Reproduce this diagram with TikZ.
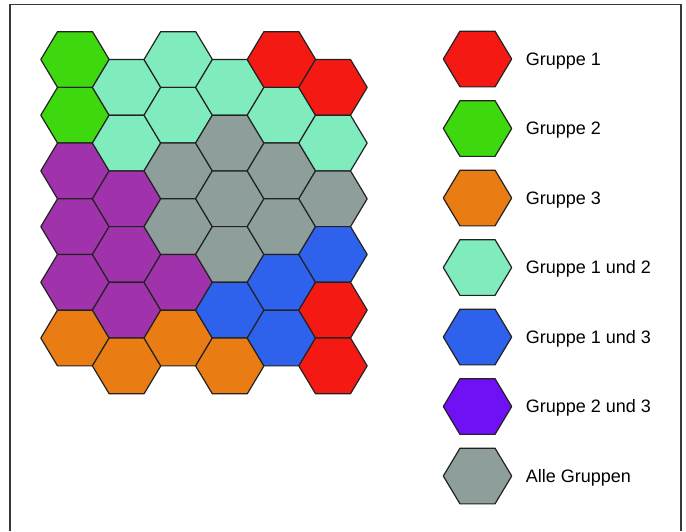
\documentclass[tikz,border=0pt]{standalone}
\usepackage{fontspec}
\setmainfont{Liberation Sans}
\usetikzlibrary{positioning}
\definecolor{cred}{HTML}{F51913}
\definecolor{cgreen}{HTML}{3DD80D}
\definecolor{corange}{HTML}{E97D14}
\definecolor{cmint}{HTML}{80ECBE}
\definecolor{cblue}{HTML}{2F62EC}
\definecolor{cpurple}{HTML}{A033AC}
\definecolor{cviolet}{HTML}{7010F4}
\definecolor{cgrey}{HTML}{8E9E9A}
\definecolor{cline}{HTML}{222222}
\tikzset{
  every picture/.style={x=1pt, y=-1pt},
  hexline/.style={draw=cline, line width=1.2pt, line join=round},
  pics/hexcell/.style={code={
    \draw[hexline, fill=#1] (-34.2,0) -- (-17.5,-27.85) -- (17.5,-27.85) -- (34.2,0)
      -- (17.5,27.85) -- (-17.5,27.85) -- cycle;}},
  legtext/.style={font=\fontsize{18}{22}\selectfont, inner sep=0pt, anchor=base west},
  frame/.style={draw=cline!90, line width=1.3pt},
}
\begin{document}
\begin{tikzpicture}
  \useasboundingbox (0,0) rectangle (686,531);
  \draw[frame] (10,531) -- (10,4.7) -- (681,4.7) -- (681,531);
  % hex field, column by column from top to bottom
  \foreach \col [count=\i from 0] in {
      {cgreen,cgreen,cpurple,cpurple,cpurple,corange},
      {cmint,cmint,cpurple,cpurple,cpurple,corange},
      {cmint,cmint,cgrey,cgrey,cpurple,corange},
      {cmint,cgrey,cgrey,cgrey,cblue,corange},
      {cred,cmint,cgrey,cgrey,cblue,cblue},
      {cred,cmint,cgrey,cblue,cred,cred}} {
    \foreach \c [count=\j from 0] in \col {
      \pgfmathsetmacro\hx{75 + 51.6*\i}
      \pgfmathsetmacro\hy{59.5 + 55.7*\j + 27.85*mod(\i,2)}
      \pic (h\i\j) at (\hx,\hy) {hexcell=\c};
    }
  }
  % legend
  \foreach \c/\t [count=\k from 0] in {cred/Gruppe 1, cgreen/Gruppe 2, corange/Gruppe 3,
      cmint/Gruppe 1 und 2, cblue/Gruppe 1 und 3, cviolet/Gruppe 2 und 3, cgrey/Alle Gruppen} {
    \pgfmathsetmacro\ly{59 + 69.5*\k}
    \pic (lg\k) at (477.5,\ly) {hexcell=\c};
    \node[legtext] (lt\k) at (525.7,\ly+6.4) {\t};
  }
\end{tikzpicture}
\end{document}
